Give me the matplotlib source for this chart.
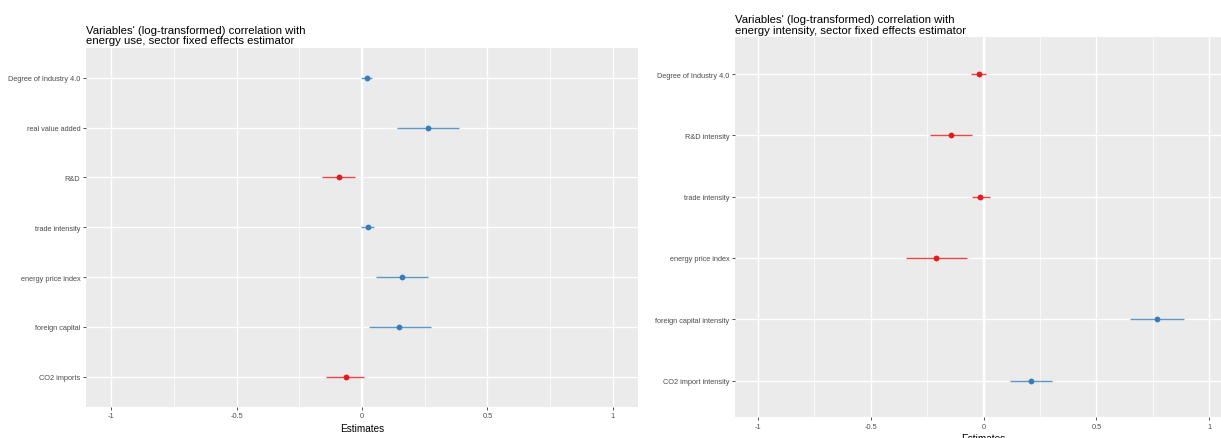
import matplotlib
matplotlib.use("Agg")
import matplotlib.pyplot as plt
from matplotlib.ticker import MultipleLocator

plt.rcParams['font.family'] = ['Liberation Sans', 'DejaVu Sans']

# ---- data: left panel (energy use) ----
left_terms = ["Degree of Industry 4.0", "real value added", "R&D", "trade intensity",
              "energy price index", "foreign capital", "CO2 imports"]
left_est = [0.020, 0.264, -0.093, 0.024, 0.159, 0.149, -0.065]
left_lo = [-0.004, 0.140, -0.158, -0.003, 0.056, 0.027, -0.142]
left_hi = [0.040, 0.388, -0.028, 0.047, 0.262, 0.274, 0.009]
left_title = "Variables' (log-transformed) correlation with\nenergy use, sector fixed effects estimator"

# ---- data: right panel (energy intensity) ----
right_terms = ["Degree of Industry 4.0", "R&D intensity", "trade intensity",
               "energy price index", "foreign capital intensity", "CO2 import intensity"]
right_est = [-0.022, -0.143, -0.015, -0.210, 0.767, 0.211]
right_lo = [-0.055, -0.235, -0.049, -0.341, 0.647, 0.118]
right_hi = [0.009, -0.050, 0.027, -0.075, 0.886, 0.305]
right_title = "Variables' (log-transformed) correlation with\nenergy intensity, sector fixed effects estimator"

x_ticks = [-1, -0.5, 0, 0.5, 1]
x_ticklabels = ["-1", "-0.5", "0", "0.5", "1"]

BLUE = "#377EB8"
RED = "#E41A1C"

W, H = 1221, 439
fig = plt.figure(figsize=(W / 100, H / 100), dpi=100)


def panel(rect_px, terms, est, lo, hi, title, xlabel_pad):
    x0, y0, x1, y1 = rect_px
    ax = fig.add_axes([x0 / W, 1 - y1 / H, (x1 - x0) / W, (y1 - y0) / H])
    ax.set_facecolor("#EBEBEB")
    n = len(terms)
    ypos = [n - i for i in range(n)]
    ax.set_xlim(-1.1, 1.1)
    ax.set_ylim(0.4, n + 0.6)
    ax.set_xticks(x_ticks)
    ax.set_xticklabels(x_ticklabels)
    ax.xaxis.set_minor_locator(MultipleLocator(0.25))
    ax.set_yticks(ypos)
    ax.set_yticklabels(terms)
    ax.grid(which="major", color="white", lw=0.95, zorder=0)
    ax.grid(which="minor", axis="x", color="white", lw=0.5, zorder=0)
    ax.tick_params(which="minor", length=0)
    ax.tick_params(which="major", length=2.5, width=0.6, color="#333333",
                   labelcolor="#4D4D4D", labelsize=5.3, pad=1.5)
    ax.axvline(0, color="white", lw=1.7, zorder=1)
    for s in ax.spines.values():
        s.set_visible(False)
    ax.set_axisbelow(True)
    for y, e, l, h in zip(ypos, est, lo, hi):
        c = BLUE if e > 0 else RED
        ax.plot([l, h], [y, y], color=c, lw=1.0, alpha=0.8, zorder=3, solid_capstyle="butt")
        ax.plot([e], [y], "o", color=c, ms=4.2, mec="none", zorder=4)
    ax.set_xlabel("Estimates", fontsize=7.2, color="black", labelpad=xlabel_pad)
    fig.text(x0 / W, 1 - (y0 - 2.5) / H, title, fontsize=8.2, ha="left", va="bottom",
             color="black", linespacing=1.1)
    return ax


panel((86, 49, 638, 407.6), left_terms, left_est, left_lo, left_hi, left_title, 3)
panel((735, 38.3, 1232, 418.3), right_terms, right_est, right_lo, right_hi, right_title, 2)

fig.savefig("out.png", dpi=100, facecolor="white")
